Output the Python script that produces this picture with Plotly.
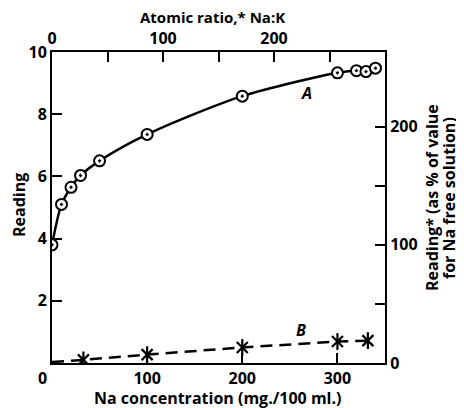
import plotly.graph_objects as go

# Curve A (circles): Na concentration vs reading
na_A = [0, 10, 20, 30, 50, 100, 200, 300, 320, 330, 340]
read_A = [3.8, 5.1, 5.65, 6.03, 6.5, 7.35, 8.58, 9.33, 9.4, 9.37, 9.48]

# Curve B (crosses)
na_B = [0, 33, 100, 200, 300, 332]
read_B = [0.03, 0.1, 0.27, 0.5, 0.69, 0.72]
marker_B = [False, True, True, True, True, True]

x_ticks = [100, 200, 300]
y_ticks = [2, 4, 6, 8, 10]
top_ticks = [0, 50, 100, 150, 200, 250, 300]
top_text = ["0", "", "100", "", "200", "", ""]
right_ticks = [0, 50, 100, 150, 200]
right_text = ["0", "", "100", "", "200"]

ref_reading = 3.8  # Na-free reading = 100 %

FONT = dict(family="Open Sans", size=16, color="black", weight=700)
TOPFONT = dict(family="Open Sans", size=15, color="black", weight=700)

fig = go.Figure()
fig.add_trace(go.Scatter(
    x=na_A, y=read_A, mode="lines+markers",
    line=dict(color="black", width=2.5, shape="spline", smoothing=0.8),
    marker=dict(symbol="circle-dot", size=11, color="white",
                line=dict(color="black", width=2)),
    showlegend=False))
fig.add_trace(go.Scatter(
    x=na_B, y=read_B, mode="lines",
    line=dict(color="black", width=2.5, dash="12px,7px"),
    showlegend=False))
bx = [x for x, m in zip(na_B, marker_B) if m]
by = [y for y, m in zip(read_B, marker_B) if m]
fig.add_trace(go.Scatter(
    x=bx, y=by, mode="markers",
    marker=dict(symbol="x-thin-open", size=11, color="black",
                line=dict(color="black", width=2.2)),
    showlegend=False))
fig.add_trace(go.Scatter(
    x=bx, y=by, mode="markers",
    marker=dict(symbol="line-ns-open", size=12, color="black",
                line=dict(color="black", width=2.2)),
    showlegend=False))
# invisible trace to anchor secondary axes
fig.add_trace(go.Scatter(x=[0], y=[0], xaxis="x2", yaxis="y2", mode="markers",
                         marker=dict(opacity=0), showlegend=False, hoverinfo="skip"))

axis_common = dict(showline=True, linecolor="black", linewidth=2,
                   ticks="inside", ticklen=10, tickwidth=2, tickcolor="black",
                   showgrid=False, zeroline=False, tickfont=FONT)

# page has an 8px body margin: figure sized/shifted to compensate
fig.update_layout(
    width=456, height=400,
    margin=dict(l=44, r=79, t=44, b=45),
    paper_bgcolor="white", plot_bgcolor="white",
    font=FONT,
    xaxis=dict(range=[0, 350], tickvals=x_ticks, **axis_common),
    yaxis=dict(range=[0, 10], tickvals=y_ticks, **axis_common),
    xaxis2=dict(range=[0, 300], overlaying="x", side="top", anchor="y",
                tickvals=top_ticks, ticktext=top_text, **axis_common),
    yaxis2=dict(range=[0, 1000 / ref_reading], overlaying="y", side="right", anchor="x",
                tickvals=right_ticks, ticktext=right_text, **axis_common),
)

W, H = 333.0, 311.0
def px(x):
    return (x - 52) / W
def py(y):
    return (363 - y) / H

ann = [
    dict(text="Atomic ratio,* Na:K", x=px(212), y=py(17), font=TOPFONT),
    dict(text="Na concentration (mg./100 ml.)", x=px(217), y=py(398), font=FONT),
    dict(text="Reading", x=px(19), y=py(205), textangle=-90, font=FONT),
    dict(text="Reading* (as % of value", x=px(432), y=py(198), textangle=-90, font=FONT),
    dict(text="for Na free solution)", x=px(449), y=py(198), textangle=-90, font=FONT),
    dict(text="0", x=px(42), y=py(378), font=FONT),
]
for a in ann:
    fig.add_annotation(xref="paper", yref="paper", showarrow=False,
                       xanchor="center", yanchor="middle", **a)

fig.add_annotation(x=268, y=8.67, xref="x", yref="y", text="<i>A</i>", showarrow=False, font=FONT)
fig.add_annotation(x=262, y=1.06, xref="x", yref="y", text="<i>B</i>", showarrow=False, font=FONT)

fig.write_html("out.html")
